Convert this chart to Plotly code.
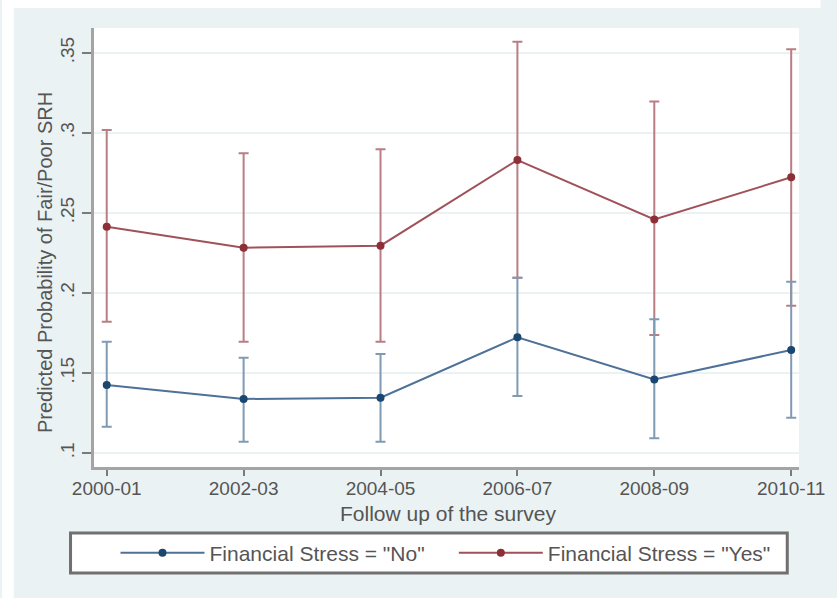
import plotly.graph_objects as go

# Survey follow-up waves
periods = ["2000-01", "2002-03", "2004-05", "2006-07", "2008-09", "2010-11"]

# Predicted probability of fair/poor self-rated health, with 95% CI bounds
no_mean = [0.1425, 0.1338, 0.1346, 0.1723, 0.1460, 0.1644]
no_low = [0.1164, 0.1070, 0.1070, 0.1356, 0.1092, 0.1220]
no_high = [0.1696, 0.1596, 0.1619, 0.2096, 0.1836, 0.2070]

yes_mean = [0.2414, 0.2283, 0.2296, 0.2831, 0.2460, 0.2723]
yes_low = [0.1820, 0.1696, 0.1696, 0.2096, 0.1738, 0.1920]
yes_high = [0.3019, 0.2873, 0.2898, 0.3570, 0.3196, 0.3523]

y_ticks = [0.10, 0.15, 0.20, 0.25, 0.30, 0.35]
y_tick_labels = [".1", ".15", ".2", ".25", ".3", ".35"]

BG = "#EAF2F3"
FONT = "Liberation Sans, Arial, sans-serif"
TEXT = "#555555"
AXIS = "#a4a4a4"

W, H = 837, 598
L, R, T, B = 94, 22, 28, 131
PW, PH = W - L - R, H - T - B


def px_x(p):
    return (p - L) / PW


def px_y(p):
    return (H - B - p) / PH


def series(name, mean, low, high, line_col, mark_col, err_col, legend):
    return go.Scatter(
        x=periods,
        y=mean,
        name=name,
        legend=legend,
        mode="lines+markers",
        line=dict(color=line_col, width=2),
        marker=dict(color=mark_col, size=8, symbol="circle"),
        error_y=dict(
            type="data",
            symmetric=False,
            array=[h - m for h, m in zip(high, mean)],
            arrayminus=[m - l for m, l in zip(mean, low)],
            color=err_col,
            thickness=2,
            width=5,
        ),
    )


fig = go.Figure()
fig.add_trace(series('Financial Stress = "Yes"', yes_mean, yes_low, yes_high,
                     "#a0525a", "#8c2f37", "#b97d84", "legend2"))
fig.add_trace(series('Financial Stress = "No"', no_mean, no_low, no_high,
                     "#4e7198", "#1a476f", "#7f9ab3", "legend"))


def legend_box(left_px):
    return dict(
        orientation="h",
        x=px_x(left_px),
        y=px_y(553),
        xanchor="left",
        yanchor="middle",
        bgcolor="rgba(0,0,0,0)",
        borderwidth=0,
        itemwidth=84,
        font=dict(family=FONT, size=21, color=TEXT),
        itemclick=False,
        itemdoubleclick=False,
    )


fig.update_layout(
    width=W,
    height=H,
    margin=dict(l=L, r=R, t=T, b=B),
    paper_bgcolor=BG,
    plot_bgcolor="white",
    font=dict(family=FONT, size=19, color=TEXT),
    showlegend=True,
    legend=legend_box(116),
    legend2=legend_box(462),
)

fig.update_xaxes(
    type="category",
    range=[-0.093, 5.057],
    showgrid=False,
    zeroline=False,
    showline=True,
    linecolor=AXIS,
    linewidth=3,
    ticks="outside",
    ticklen=6,
    tickwidth=2,
    tickcolor="#7a7a7a",
    ticklabelstandoff=-4,
    tickfont=dict(family=FONT, size=19, color=TEXT),
)

fig.update_yaxes(
    range=[0.0913, 0.3656],
    tickvals=y_ticks,
    ticktext=y_tick_labels,
    tickangle=-90,
    showgrid=True,
    gridcolor=BG,
    gridwidth=2,
    zeroline=False,
    showline=True,
    linecolor=AXIS,
    linewidth=3,
    ticks="outside",
    ticklen=9,
    tickwidth=2,
    tickcolor="#7a7a7a",
    tickfont=dict(family=FONT, size=19, color=TEXT),
)

# Axis titles
fig.add_annotation(
    text="Follow up of the survey",
    xref="paper", yref="paper",
    x=px_x(456), y=px_y(513),
    xanchor="center", yanchor="middle",
    showarrow=False,
    font=dict(family=FONT, size=21, color=TEXT),
)
fig.add_annotation(
    text="Predicted Probability of Fair/Poor SRH",
    xref="paper", yref="paper",
    x=px_x(44), y=px_y(263),
    xanchor="center", yanchor="middle",
    textangle=-90,
    showarrow=False,
    font=dict(family=FONT, size=20, color=TEXT),
)

# White strips along the outer top and left edges
fig.add_shape(type="rect", xref="paper", yref="paper",
              x0=px_x(0), x1=px_x(12), y0=px_y(H), y1=px_y(0),
              fillcolor="white", line=dict(width=0), layer="below")
fig.add_shape(type="rect", xref="paper", yref="paper",
              x0=px_x(0), x1=px_x(W), y0=px_y(8), y1=px_y(0),
              fillcolor="white", line=dict(width=0), layer="below")

# Legend frame
fig.add_shape(type="rect", xref="paper", yref="paper",
              x0=px_x(70), x1=px_x(803), y0=px_y(573), y1=px_y(533),
              fillcolor="white", line=dict(color="#707070", width=3),
              layer="below")

fig.write_html("out.html")
